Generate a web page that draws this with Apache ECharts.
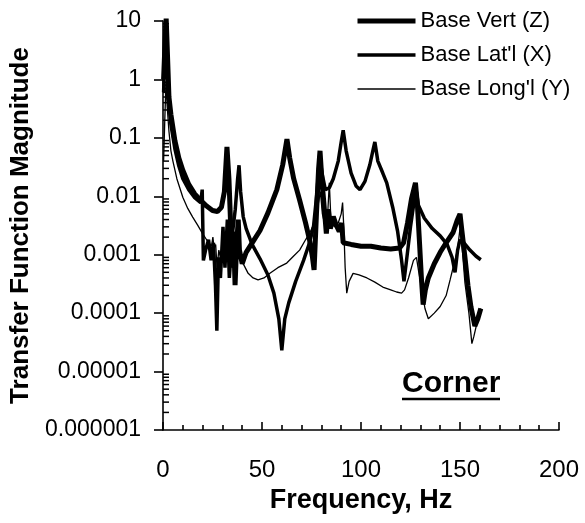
<!DOCTYPE html>
<html>
<head>
<meta charset="utf-8">
<script src="https://cdn.jsdelivr.net/npm/echarts@6/dist/echarts.min.js"></script>
<style>html,body{margin:0;padding:0;background:#fff;}#c{width:585px;height:523px;}</style>
</head>
<body>
<div id="c"></div>
<script>
const seriesNames = ['Base Vert (Z)', "Base Lat'l (X)", "Base Long'l (Y)"];
const xTickLabels = ['0', '50', '100', '150', '200'];
const yTickLabels = ['0.000001', '0.00001', '0.0001', '0.001', '0.01', '0.1', '1', '10'];

const baseVert = [
  [0.3, 1.0], [1.0, 4], [1.6, 11], [2.2, 3], [3, 0.5], [4, 0.25], [6, 0.09], [8, 0.045], [10, 0.028],
  [13, 0.016], [16, 0.011], [19, 0.0085], [22, 0.0068], [25, 0.0057], [27.5, 0.0055], [29.5, 0.0065],
  [31, 0.012], [32.3, 0.07], [33.3, 0.02], [34.2, 0.003], [35, 0.0006], [35.6, 0.0025], [36.4, 0.0003],
  [37.2, 0.0015], [38, 0.004], [38.6, 0.0012], [40, 0.0007], [42, 0.0011], [46, 0.0018], [49, 0.0026],
  [53, 0.0052], [57.5, 0.013], [60.5, 0.035], [62.6, 0.095], [64, 0.045], [66, 0.02], [69, 0.0086],
  [72, 0.0035], [74, 0.0018], [75.5, 0.0009], [76.3, 0.00055], [77.5, 0.005], [78.6, 0.03], [79.3, 0.06],
  [80.2, 0.02], [81.2, 0.008], [82.5, 0.0023], [83.5, 0.006], [84.5, 0.0028], [86, 0.0045], [87.5, 0.0032],
  [89, 0.0025], [90.2, 0.0035], [91, 0.0016], [95, 0.0015], [100, 0.0014], [105, 0.0014], [110, 0.0013],
  [115, 0.00125], [119.5, 0.0013], [121.5, 0.0016], [123.5, 0.0035], [125.5, 0.009], [127.5, 0.017],
  [128.5, 0.007], [129.6, 0.0015], [130.5, 0.0004], [131.4, 0.00014], [132.5, 0.00025], [134, 0.0004],
  [137, 0.0007], [140, 0.0011], [143, 0.0016], [146.5, 0.0024], [148.5, 0.0038], [150, 0.005],
  [151, 0.0025], [152.5, 0.0009], [154, 0.0003], [155.5, 0.00013], [157.5, 0.00006], [159, 0.00008],
  [160.5, 0.00012]
];
const baseLat = [
  [0.3, 0.6], [1.0, 3], [1.7, 9], [2.3, 2], [3, 0.4], [4, 0.17], [6, 0.065], [8, 0.033], [10, 0.02],
  [13, 0.013], [16, 0.0095], [19, 0.0078], [19.8, 0.013], [20.4, 0.0008], [21.5, 0.0012], [23, 0.0018],
  [24.3, 0.0008], [25.5, 0.0016], [26.5, 0.0003], [27.2, 0.00005], [28, 0.0009], [29, 0.0004],
  [30.3, 0.003], [31.3, 0.0006], [32.5, 0.004], [33.5, 0.0004], [35, 0.0022], [36.5, 0.006], [37.7, 0.02],
  [38.4, 0.034], [39.2, 0.012], [40.5, 0.0045], [42, 0.0028], [45, 0.0015], [49, 0.00085], [53, 0.00045],
  [56, 0.00022], [58.5, 0.00008], [60, 0.000023], [61.5, 0.00008], [63.5, 0.00015], [67, 0.00035],
  [71, 0.0008], [74, 0.0016], [76, 0.003], [77.8, 0.012], [79.1, 0.05], [80.3, 0.025], [82, 0.013],
  [84, 0.014], [86, 0.02], [88.5, 0.04], [90, 0.085], [91, 0.135], [92.5, 0.06], [95, 0.025],
  [97.5, 0.015], [99.5, 0.013], [102, 0.018], [104.5, 0.035], [106.2, 0.065], [107, 0.085],
  [108.5, 0.04], [111, 0.025], [113, 0.017], [116, 0.0065], [118.5, 0.0025], [120.5, 0.0008],
  [121.7, 0.00035], [123, 0.0008], [125, 0.003], [127, 0.009], [128, 0.012], [129, 0.007], [132, 0.0042],
  [136, 0.0028], [140, 0.0021], [143.5, 0.0015], [146, 0.0009], [147.5, 0.0005], [148.8, 0.0012],
  [150, 0.0018], [152, 0.0016], [155, 0.0012], [158, 0.00095], [160.5, 0.00082]
];
const baseLong = [
  [0.3, 0.04], [0.9, 0.2], [1.5, 0.9], [2.1, 0.35], [3, 0.13], [4, 0.06], [5, 0.04], [7, 0.02],
  [10, 0.0096], [12.5, 0.0062], [15, 0.0044], [17.5, 0.0032], [20, 0.0023], [22.5, 0.0017],
  [24.5, 0.0014], [25.2, 0.002], [25.8, 0.0013], [26.6, 0.0015], [27.3, 0.0006], [28.2, 0.0012],
  [29.3, 0.0008], [30.5, 0.0025], [31.5, 0.0012], [33, 0.0022], [34, 0.0009], [35.5, 0.0014],
  [36.5, 0.0006], [38, 0.0012], [39.5, 0.0008], [41, 0.00065], [43, 0.00048], [45.5, 0.0004],
  [48, 0.00037], [51, 0.0004], [54, 0.00048], [58, 0.0006], [62.5, 0.00072], [66, 0.00095],
  [69, 0.0012], [72, 0.0018], [74.5, 0.0025], [77, 0.004], [78.6, 0.008], [79.5, 0.012], [80.5, 0.005],
  [82, 0.003], [83.3, 0.006], [84, 0.017], [84.8, 0.004], [86.5, 0.003], [88.5, 0.0035], [90, 0.005],
  [90.7, 0.0078], [91.3, 0.003], [92, 0.0006], [92.8, 0.00022], [94, 0.00035], [96, 0.00048],
  [99, 0.00045], [103, 0.0004], [107, 0.00034], [111, 0.00028], [115, 0.00025], [118, 0.00023],
  [120.5, 0.00022], [122, 0.00025], [124, 0.0004], [126.5, 0.0008], [128, 0.0009], [129.2, 0.0005],
  [130.5, 0.00028], [132.3, 0.00012], [134, 0.00008], [137, 0.0001], [140, 0.00013], [143, 0.0002],
  [145, 0.00037], [147, 0.0007], [148.7, 0.0012], [150, 0.0028], [151.2, 0.0012], [152.5, 0.00033],
  [154.5, 0.0001], [156, 0.00003], [157, 0.00004], [158.2, 0.00006], [160.5, 0.00012]
];

const FONT = "'Liberation Sans', Arial, sans-serif";

const chart = echarts.init(document.getElementById('c'), null, {renderer: 'canvas'});
const baseGraphic = [
  {id: 'cornerText', type: 'text', left: 402, top: 369,
    style: {text: 'Corner', font: "bold 30px 'Liberation Sans', Arial, sans-serif", fill: '#000'}},
  {id: 'cornerLine', type: 'line', shape: {x1: 402, y1: 399, x2: 500, y2: 399},
    style: {stroke: '#000', lineWidth: 2.5}}
];
const option = {
  animation: false,
  backgroundColor: '#fff',
  grid: {left: 163, right: 26, top: 21, bottom: 93},
  legend: {
    orient: 'vertical', left: 350, top: 5, itemWidth: 58, itemHeight: 14, itemGap: 12,
    itemStyle: {opacity: 0},
    textStyle: {fontFamily: FONT, fontSize: 22, color: '#000'},
    data: [
      {name: seriesNames[0], lineStyle: {width: 5, color: '#000'}},
      {name: seriesNames[1], lineStyle: {width: 3.5, color: '#000'}},
      {name: seriesNames[2], lineStyle: {width: 1.5, color: '#000'}}
    ]
  },
  xAxis: {
    type: 'value', min: 0, max: 200, interval: 50,
    name: 'Frequency, Hz', nameLocation: 'middle', nameGap: 57,
    nameTextStyle: {fontFamily: FONT, fontSize: 27, fontWeight: 'bold', color: '#000'},
    axisLine: {onZero: false, lineStyle: {color: '#000', width: 1.5}},
    axisTick: {inside: true, length: 8, lineStyle: {color: '#000', width: 1.6}},
    minorTick: {show: true, splitNumber: 5, length: 5, lineStyle: {color: '#000', width: 1.6}},
    splitLine: {show: false},
    axisLabel: {fontFamily: FONT, fontSize: 24, color: '#000', margin: 28,
      formatter: v => xTickLabels[Math.round(v / 50)]}
  },
  yAxis: [
    {
      type: 'log', min: 1e-6, max: 10, logBase: 10,
      axisLine: {show: true, onZero: false, lineStyle: {color: '#000', width: 1.6}},
      axisTick: {show: false}, axisLabel: {show: false}, splitLine: {show: false}
    },
    {
      type: 'value', min: -6, max: 1, interval: 1, position: 'left',
      name: 'Transfer Function Magnitude', nameLocation: 'middle', nameGap: 126,
      nameTextStyle: {fontFamily: FONT, fontSize: 26, fontWeight: 'bold', color: '#000'},
      axisLine: {show: false, onZero: false},
      axisTick: {show: true, inside: false, length: 9, lineStyle: {color: '#000', width: 1.6}},
      splitLine: {show: false},
      axisLabel: {fontFamily: FONT, fontSize: 23, color: '#000', margin: 22,
        formatter: v => yTickLabels[Math.round(v) + 6]}
    }
  ],
  series: [
    {name: seriesNames[0], type: 'line', data: baseVert, symbol: 'none', clip: false,
      lineStyle: {color: '#000', width: 5}, itemStyle: {color: '#000'}, z: 4},
    {name: seriesNames[1], type: 'line', data: baseLat, symbol: 'none', clip: false,
      lineStyle: {color: '#000', width: 3.5}, itemStyle: {color: '#000'}, z: 3},
    {name: seriesNames[2], type: 'line', data: baseLong, symbol: 'none', clip: false,
      lineStyle: {color: '#000', width: 1.3}, itemStyle: {color: '#000'}, z: 2}
  ],
  graphic: baseGraphic
};
chart.setOption(option);

// Minor log ticks on the y axis (inside), placed through the log axis scale
const minorTicks = [];
const x0 = chart.convertToPixel({xAxisIndex: 0}, 0);
for (let d = -6; d < 1; d++) {
  for (let k = 2; k <= 9; k++) {
    const py = chart.convertToPixel({yAxisIndex: 0}, k * Math.pow(10, d));
    minorTicks.push({
      type: 'line', silent: true,
      shape: {x1: x0, y1: py, x2: x0 + 6, y2: py},
      style: {stroke: '#000', lineWidth: 1.5}
    });
  }
}
chart.setOption({graphic: baseGraphic.concat(minorTicks)});
</script>
</body>
</html>
